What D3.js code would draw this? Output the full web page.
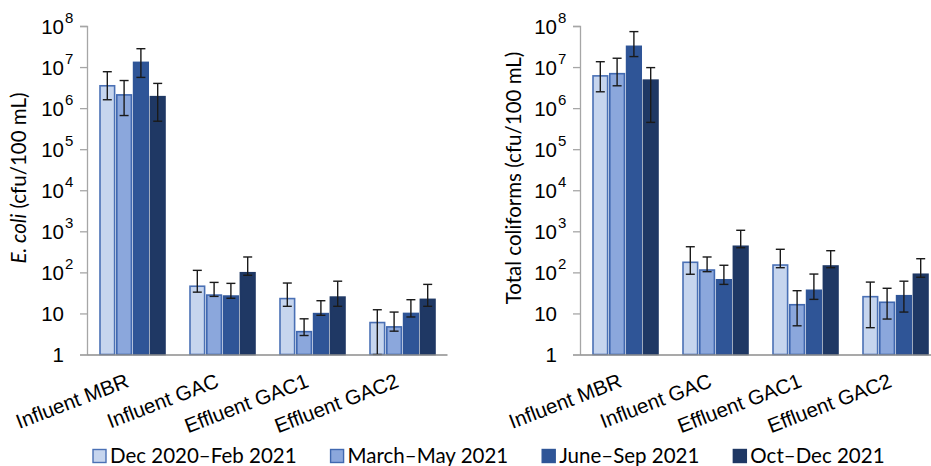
<!DOCTYPE html>
<html>
<head>
<meta charset="utf-8">
<script src="https://cdn.jsdelivr.net/npm/d3@7"></script>
<style>
  html, body { margin: 0; padding: 0; background: #fff; }
  svg { display: block; font-family: Lato, "Open Sans", sans-serif; }
</style>
</head>
<body>
<svg id="chart" width="931" height="466"></svg>
<script>
// Sampling sites and sampling periods
const categories = ["Influent MBR", "Influent GAC", "Effluent GAC1", "Effluent GAC2"];
const periods = ["Dec 2020–Feb 2021", "March–May 2021", "June–Sep 2021", "Oct–Dec 2021"];

// E. coli (cfu/100 mL): mean, lower and upper error limits, one row per site
const ecoliMean = [
  [3.5e6, 2.1e6, 1.3e7, 1.9e6],
  [46, 28, 26.5, 98],
  [23, 3.6, 9.9, 25],
  [6.0, 4.7, 10, 22]
];
const ecoliLow = [
  [1.6e6, 6.6e5, 5.6e6, 4.8e5],
  [33, 26, 23.4, 85],
  [14.9, 2.9, 9.0, 14.9],
  [1, 3.7, 8.2, 14.9]
];
const ecoliHigh = [
  [7.7e6, 4.7e6, 2.8e7, 4.0e6],
  [112, 57, 54, 237],
  [55, 7.4, 20.4, 61],
  [12.3, 10.8, 21.6, 51]
];

// Total coliforms (cfu/100 mL)
const coliMean = [
  [6.1e6, 6.9e6, 3.2e7, 4.8e6],
  [176, 114, 66, 432],
  [151, 16.3, 36.6, 143],
  [25.6, 18.7, 27, 90]
];
const coliLow = [
  [2.5e6, 3.5e6, 1.8e7, 4.5e5],
  [90, 104, 51, 398],
  [130, 5.0, 22, 130],
  [4.5, 7.3, 10.8, 76]
];
const coliHigh = [
  [1.35e7, 1.64e7, 7.3e7, 9.7e6],
  [421, 237, 149, 1060],
  [365, 35.8, 91, 337],
  [58, 41, 61, 215]
];

const yTicks = [1, 10, 1e2, 1e3, 1e4, 1e5, 1e6, 1e7, 1e8];

const fills   = ["#c6d5ee", "#8ba7dc", "#2f5597", "#1f3864"];
const strokes = ["#4a70b5", "#4068b0", "#2f5597", "#1f3864"];

const svg = d3.select("#chart");

function drawPanel(left, titleParts, titleX, mean, low, high) {
  const top = 26, bottom = 354.5, width = 360;
  const g = svg.append("g").attr("transform", `translate(${left},0)`);

  const y = d3.scaleLog().domain([1, 1e8]).range([bottom, top]);
  const x0 = d3.scaleBand().domain(categories).range([0, width]);
  const x1 = d3.scaleBand().domain(periods).range([13, 78]).paddingInner(0.13);

  // y axis with power-of-ten labels
  const yAxis = g.append("g")
    .call(d3.axisLeft(y).tickValues(yTicks).tickSize(7).tickPadding(0).tickFormat(() => ""));
  yAxis.select(".domain").attr("stroke", "#a6a6a6").attr("stroke-width", 1.3);
  yAxis.selectAll(".tick line").attr("stroke", "#a6a6a6").attr("stroke-width", 1.3);
  yAxis.selectAll(".tick").each(function(d) {
    const e = Math.round(Math.log10(d));
    const t = d3.select(this).append("text")
      .attr("x", -23).attr("dy", "0.35em")
      .attr("text-anchor", "end")
      .attr("fill", "#000")
      .style("font-size", "20.5px");
    if (e === 0) t.text("1");
    else if (e === 1) t.text("10");
    else {
      t.text("10");
      d3.select(this).append("text")
        .attr("x", -22).attr("dy", "-0.25em")
        .attr("text-anchor", "start")
        .attr("fill", "#000")
        .style("font-size", "15px")
        .text(e);
    }
  });

  // bars
  const groups = g.selectAll(".site").data(categories).join("g")
    .attr("transform", d => `translate(${x0(d)},0)`);

  groups.each(function(cat, ci) {
    const gg = d3.select(this);
    periods.forEach((p, pi) => {
      const v = mean[ci][pi];
      gg.append("rect")
        .attr("x", x1(p))
        .attr("y", y(v))
        .attr("width", x1.bandwidth())
        .attr("height", y(1) - y(v))
        .attr("fill", fills[pi])
        .attr("stroke", strokes[pi])
        .attr("stroke-width", 1.6);
    });
    periods.forEach((p, pi) => {
      const cx = x1(p) + x1.bandwidth() / 2;
      const yh = y(high[ci][pi]), yl = y(low[ci][pi]);
      const eg = gg.append("g").attr("stroke", "#1a1a1a").attr("stroke-width", 1.4);
      eg.append("line").attr("x1", cx).attr("x2", cx).attr("y1", yh).attr("y2", yl);
      eg.append("line").attr("x1", cx - 4.5).attr("x2", cx + 4.5).attr("y1", yh).attr("y2", yh);
      eg.append("line").attr("x1", cx - 4.5).attr("x2", cx + 4.5).attr("y1", yl).attr("y2", yl);
    });
  });

  // x axis
  const xAxis = g.append("g").attr("transform", `translate(0,${bottom})`)
    .call(d3.axisBottom(x0).tickSize(0).tickPadding(0));
  xAxis.select(".domain").attr("stroke", "#8c8c8c").attr("stroke-width", 1.3);
  xAxis.selectAll(".tick text")
    .attr("fill", "#000")
    .style("font-size", "20.5px")
    .attr("text-anchor", "end")
    .attr("dy", 0).attr("y", 0)
    .attr("transform", "translate(-2,32) rotate(-21)");

  // y axis title
  const title = g.append("text")
    .attr("transform", `translate(${titleX - left},${178}) rotate(-90)`)
    .attr("text-anchor", "middle")
    .attr("dy", "0.35em")
    .attr("fill", "#000")
    .style("font-size", "20.5px");
  titleParts.forEach(tp => {
    title.append("tspan").style("font-style", tp.italic ? "italic" : "normal").text(tp.text);
  });
}

drawPanel(87, [{text: "E. coli", italic: true}, {text: " (cfu/100 mL)"}], 19, ecoliMean, ecoliLow, ecoliHigh);
drawPanel(580, [{text: "Total coliforms (cfu/100 mL)"}], 514, coliMean, coliLow, coliHigh);

// legend
const legend = svg.append("g").attr("transform", "translate(93,456)");
let lx = 0;
periods.forEach((p, i) => {
  const item = legend.append("g").attr("transform", `translate(${lx},0)`);
  item.append("rect").attr("x", 0).attr("y", -6.5).attr("width", 13).attr("height", 13)
    .attr("fill", fills[i]).attr("stroke", strokes[i]).attr("stroke-width", 1.4);
  const t = item.append("text").attr("x", 17).attr("dy", "0.35em")
    .attr("fill", "#000").style("font-size", "20.5px").text(p);
  lx += 17 + t.node().getComputedTextLength() + 34;
});
</script>
</body>
</html>
